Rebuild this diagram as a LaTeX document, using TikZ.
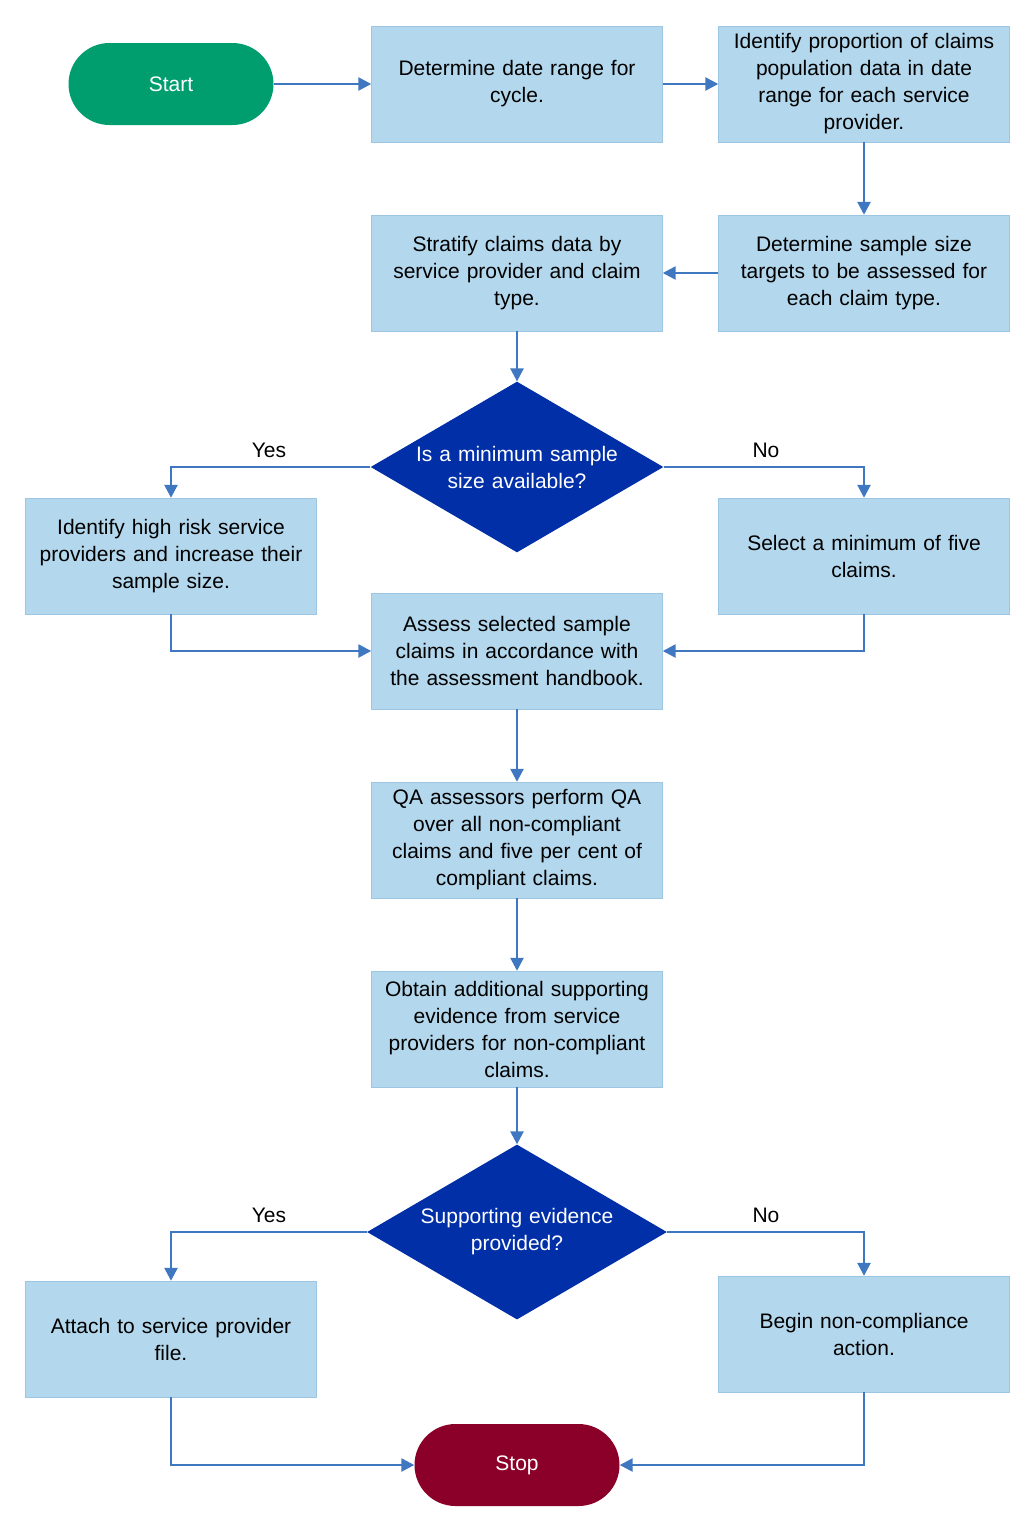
\documentclass[tikz,border=0pt]{standalone}
\usepackage{fontspec}
\setmainfont{Liberation Sans}
\usetikzlibrary{shapes.geometric,arrows.meta}
\definecolor{boxf}{HTML}{B3D7EC}
\definecolor{boxd}{HTML}{9CC6E2}
\definecolor{arr}{HTML}{3F77C0}
\definecolor{dia}{HTML}{002FA7}
\definecolor{startc}{HTML}{009E6E}
\definecolor{stopc}{HTML}{8B0029}
\begin{document}
\begin{tikzpicture}[x=1pt,y=-1pt,
  every node/.style={font=\fontsize{21}{27}\selectfont},
  box/.style={draw=boxd,fill=boxf,minimum width=291pt,minimum height=116pt,text width=280pt,align=center,inner sep=0pt},
  term/.style={rounded corners=41pt,minimum width=205pt,minimum height=82pt,text=white,inner sep=0pt},
  dec/.style={diamond,fill=dia,text=white,minimum width=288pt,minimum height=168pt,aspect=1.714,align=center,inner sep=0pt,text width=220pt},
  ar/.style={draw=arr,line width=2.5pt,-{Triangle[length=13pt,width=13pt]}}]
\useasboundingbox (0,0) rectangle (1036,1532);
\node[term,fill=startc] (start) at (171,84) {Start};
\node[box] (b1) at (517,84) {Determine date range for\\cycle.};
\node[box] (b2) at (864,84) {Identify proportion of claims\\population data in date\\range for each service\\provider.};
\node[box] (b3) at (864,273) {Determine sample size\\targets to be assessed for\\each claim type.};
\node[box] (b4) at (517,273) {Stratify claims data by\\service provider and claim\\type.};
\node[dec] (d1) at (517,467) {Is a minimum sample\\size available?};
\node[box] (b5) at (171,556) {Identify high risk service\\providers and increase their\\sample size.};
\node[box] (b6) at (864,556) {Select a minimum of five\\claims.};
\node[box] (b7) at (517,651) {Assess selected sample\\claims in accordance with\\the assessment handbook.};
\node[box] (b8) at (517,840) {QA assessors perform QA\\over all non-compliant\\claims and five per cent of\\compliant claims.};
\node[box] (b9) at (517,1029) {Obtain additional supporting\\evidence from service\\providers for non-compliant\\claims.};
\node[dec] (d2) at (517,1232) {Supporting evidence\\provided?};
\node[box] (b10) at (171,1339) {Attach to service provider\\file.};
\node[box] (b11) at (864,1334) {Begin non-compliance\\action.};
\node[term,fill=stopc] (stop) at (517,1465) {Stop};
\node (y1) at (269,450) {Yes};
\node (n1) at (766,450) {No};
\node (y2) at (269,1215) {Yes};
\node (n2) at (766,1215) {No};
\draw[ar] (start) -- (b1);
\draw[ar] (b1) -- (b2);
\draw[ar] (b2) -- (b3);
\draw[ar] (b3) -- (b4);
\draw[ar] (b4) -- (d1);
\draw[ar] (d1.west) -| (b5.north);
\draw[ar] (d1.east) -| (b6.north);
\draw[ar] (b5.south) |- (b7.west);
\draw[ar] (b6.south) |- (b7.east);
\draw[ar] (b7) -- (b8);
\draw[ar] (b8) -- (b9);
\draw[ar] (b9) -- (d2);
\draw[ar] (d2.west) -| (b10.north);
\draw[ar] (d2.east) -| (b11.north);
\draw[ar] (b10.south) |- (stop.west);
\draw[ar] (b11.south) |- (stop.east);
\end{tikzpicture}
\end{document}
